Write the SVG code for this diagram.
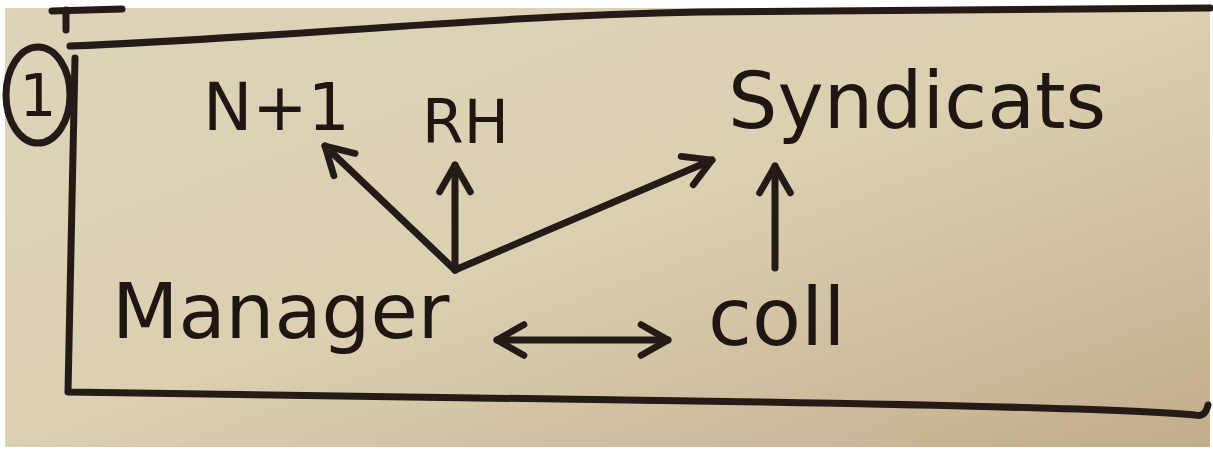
<svg xmlns="http://www.w3.org/2000/svg" width="1213" height="457" viewBox="0 0 1213 457">
<defs>
<linearGradient id="bg" x1="0" y1="0" x2="1" y2="1">
<stop offset="0" stop-color="#ddd4ba"/>
<stop offset="0.5" stop-color="#dcd0b2"/>
<stop offset="1" stop-color="#c2ad8c"/>
</linearGradient>
<marker id="ah" viewBox="0 0 20 20" refX="16" refY="10" markerWidth="5.5" markerHeight="5.5" markerUnits="strokeWidth" orient="auto-start-reverse">
<path d="M2,2 L16,10 L2,18" fill="none" stroke="#241a16" stroke-width="3.5" stroke-linecap="round" stroke-linejoin="round"/>
</marker>
<style>
.ink{fill:none;stroke:#241a16;stroke-width:7;stroke-linecap:round;stroke-linejoin:round}
.lbl{font-family:"DejaVu Sans","Liberation Sans",sans-serif;fill:#1f1612}
.con{fill:none;stroke:#241a16;stroke-width:7;stroke-linecap:round;marker-end:url(#ah)}
</style>
</defs>
<rect width="1213" height="457" fill="#ffffff"/>
<rect x="5" y="8" width="1205" height="439" fill="url(#bg)"/>
<g id="frame">
<path class="ink" d="M70,46 C280,38 480,16 700,12 L1210,8"/>
<path class="ink" d="M75,58 Q72,220 68,392 Q400,396 760,402 T1195,415 Q1205,418 1208,405"/>
<path class="ink" d="M66,10 L66,30"/>
<path class="ink" d="M52,11 L122,9"/>
<ellipse cx="38" cy="95" rx="32" ry="48" class="ink"/>
<text class="lbl" x="38" y="116" font-size="58" text-anchor="middle">1</text>
</g>
<g id="node-n1"><text class="lbl" x="203" y="130" font-size="66">N+1</text></g>
<g id="node-rh"><text class="lbl" x="422" y="143" font-size="60">RH</text></g>
<g id="node-syndicats"><text class="lbl" x="728" y="128" font-size="78">Syndicats</text></g>
<g id="node-manager"><text class="lbl" x="112" y="338" font-size="77">Manager</text></g>
<g id="node-coll"><text class="lbl" x="708" y="345" font-size="80">coll</text></g>
<g id="connectors">
<path class="con" d="M455,270 L325,146"/>
<path class="con" d="M455,270 L455,165"/>
<path class="con" d="M455,270 L712,160"/>
<path class="con" d="M775,268 L775,166"/>
<path class="con" d="M497,340 L668,340" marker-start="url(#ah)"/>
</g>
</svg>
